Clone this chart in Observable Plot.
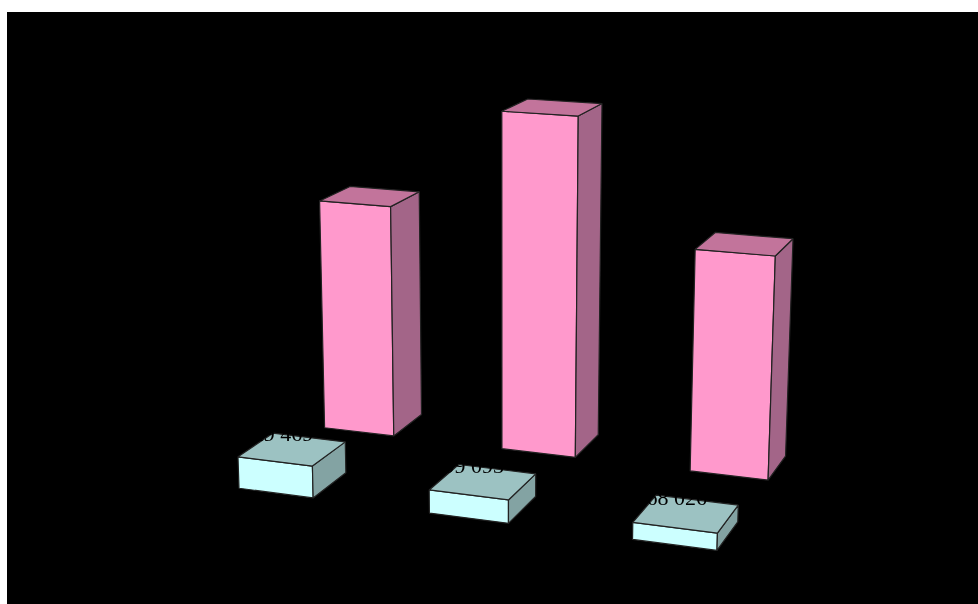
<!DOCTYPE html><html><head><meta charset="utf-8"></head>
<body style="margin:0;background:#fff;overflow:hidden">
<div id="chart" style="position:absolute;left:7px;top:12px;line-height:0"></div>
<script src="https://cdn.jsdelivr.net/npm/d3@7"></script>
<script src="https://cdn.jsdelivr.net/npm/@observablehq/plot@0.6"></script>
<script>
// Chart values (bar heights on a common scale, tallest bar about 1)
const categories = [0, 1, 2];
const frontSeries = [0.0918, 0.0655, 0.0470];
const backSeries = [0.6972, 0.9968, 0.6455];
const frontLabels = ["129 469", "99 093", "68 026"];

// Box shape in scene units, and the colours of each series
const barWidth = 0.3970, barDepth = 0.3088, backRow = 0.8003;
const frontColors = {front: "#ccffff", top: "#9cc2c2", side: "#83a3a3"};
const backColors = {front: "#ff99cc", top: "#c2749b", side: "#a36588"};

// Perspective camera of the 3D scene
const cam = [176.9891, -21.18381, 141.9076, 238.5090,
             8.729783, -361.8341, -29.51714, 487.7688,
             -0.03128162, -0.04198260, 0.1079062];
const project = ([x, y, z]) => {
  const k = cam[8] * x + cam[9] * y + cam[10] * z + 1;
  return [(cam[0] * x + cam[1] * y + cam[2] * z + cam[3]) / k,
          (cam[4] * x + cam[5] * y + cam[6] * z + cam[7]) / k];
};

function boxFaces(values, row, colors, name) {
  return values.flatMap((h, i) => {
    const x0 = categories[i], x1 = x0 + barWidth, z0 = row, z1 = row + barDepth;
    const faces = {
      front: [[x0, h, z0], [x1, h, z0], [x1, 0, z0], [x0, 0, z0]],
      side: [[x1, h, z0], [x1, h, z1], [x1, 0, z1], [x1, 0, z0]],
      top: [[x0, h, z0], [x1, h, z0], [x1, h, z1], [x0, h, z1]]
    };
    return Object.entries(faces).flatMap(([f, pts]) =>
      pts.map(p => {
        const [px, py] = project(p);
        return {id: `${name}-${i}-${f}`, color: colors[f], px, py};
      }));
  });
}
const rows = [
  ...boxFaces(backSeries, backRow, backColors, "back"),
  ...boxFaces(frontSeries, 0, frontColors, "front")
];
const labels = frontSeries.map((h, i) => {
  const [px, py] = project([categories[i] + barWidth / 2, h, barDepth / 2]);
  return {px, py, text: frontLabels[i]};
});

const chart = Plot.plot({
  width: 971, height: 592,
  marginTop: 0, marginRight: 0, marginBottom: 0, marginLeft: 0,
  style: {background: "#000", display: "block"},
  x: {domain: [7, 978], range: [0, 971], axis: null},
  y: {domain: [12, 604], range: [0, 592], axis: null},
  color: {type: "identity"},
  marks: [
    Plot.line(rows, {x: "px", y: "py", z: "id", fill: "color", stroke: "#222", strokeWidth: 1.2,
      curve: "linear-closed", strokeLinejoin: "miter", imageFilter: "blur(0.45px)"}),
    Plot.text(labels, {x: "px", y: "py", text: "text", textAnchor: "end", dx: 21, dy: -15.5,
      fontFamily: "Liberation Serif", fontSize: 22, fill: "#000", imageFilter: "blur(0.3px)"})
  ]
});
document.getElementById("chart").append(chart);
</script></body></html>
